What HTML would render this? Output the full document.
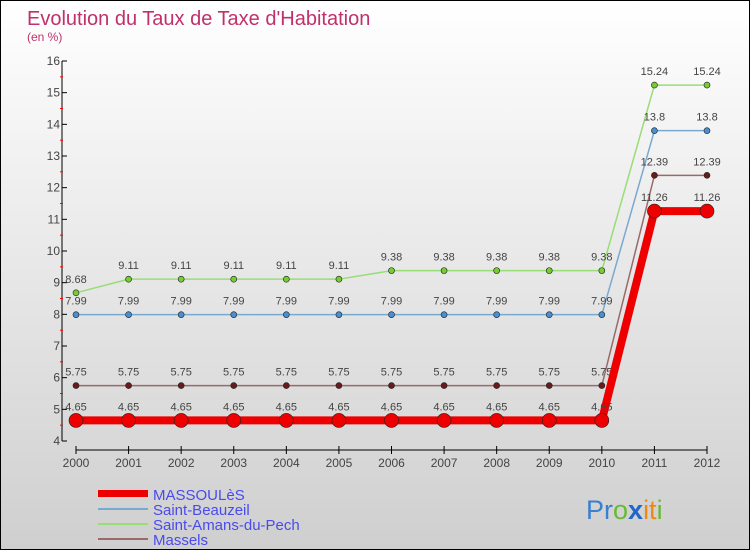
<!DOCTYPE html>
<html><head><meta charset="utf-8"><style>
body{margin:0}
#c{position:relative;width:750px;height:550px;box-sizing:border-box;border:1px solid #000;background:linear-gradient(#ffffff,#cfcfcf);font-family:"Liberation Sans",sans-serif;overflow:hidden}
text{font-family:"Liberation Sans",sans-serif}
</style></head><body>
<div id="c">
<svg id="s" width="750" height="550" style="position:absolute;left:0;top:0">
<text x="26" y="24" font-size="20" fill="#c0306a">Evolution du Taux de Taxe d'Habitation</text>
<text x="26" y="40" font-size="12" fill="#c0306a">(en %)</text>
<g id="g"></g>
<g>
<rect x="97" y="489" width="50" height="7" fill="#e00"/>
<text x="152" y="499" font-size="15" fill="#4a4aee">MASSOULèS</text>
<line x1="97" y1="508" x2="147" y2="508" stroke="#7aa9d0" stroke-width="2"/>
<text x="152" y="514" font-size="15" fill="#4a4aee">Saint-Beauzeil</text>
<line x1="97" y1="523" x2="147" y2="523" stroke="#99dd77" stroke-width="2"/>
<text x="152" y="529" font-size="15" fill="#4a4aee">Saint-Amans-du-Pech</text>
<line x1="97" y1="538" x2="147" y2="538" stroke="#9a6a6a" stroke-width="2"/>
<text x="152" y="544" font-size="15" fill="#4a4aee">Massels</text>
</g>
<text x="585" y="518" font-size="27"><tspan fill="#3a7fd0">Pr</tspan><tspan fill="#66bb33">o</tspan><tspan fill="#2266cc" font-weight="bold">x</tspan><tspan fill="#ee8811">it</tspan><tspan fill="#66bb33">i</tspan></text>
</svg>
</div>
<script>
const years=["2000","2001","2002","2003","2004","2005","2006","2007","2008","2009","2010","2011","2012"];
const yTicks=[4,5,6,7,8,9,10,11,12,13,14,15,16];
const massoules=[4.65,4.65,4.65,4.65,4.65,4.65,4.65,4.65,4.65,4.65,4.65,11.26,11.26];
const beauzeil=[7.99,7.99,7.99,7.99,7.99,7.99,7.99,7.99,7.99,7.99,7.99,13.8,13.8];
const amans=[8.68,9.11,9.11,9.11,9.11,9.11,9.38,9.38,9.38,9.38,9.38,15.24,15.24];
const massels=[5.75,5.75,5.75,5.75,5.75,5.75,5.75,5.75,5.75,5.75,5.75,12.39,12.39];
const NS="http://www.w3.org/2000/svg",g=document.getElementById('g');
const X=i=>75+i*(706-75)/(years.length-1);
const Y=v=>440-(v-4)*(380/12);
function mk(t,a,p){const e=document.createElementNS(NS,t);for(const k in a)e.setAttribute(k,a[k]);(p||g).appendChild(e);return e;}
let ax=mk('line',{x1:61,y1:Y(16),x2:61,y2:Y(4),stroke:'#000','stroke-width':1});


yTicks.forEach(v=>{mk('line',{x1:61,y1:Y(v),x2:66,y2:Y(v),stroke:'#000'});
 if(v<16)mk('line',{x1:59,y1:Y(v+0.5),x2:62,y2:Y(v+0.5),stroke:'#f00'});
 const t=mk('text',{x:59,y:Y(v)+4,'font-size':12,'text-anchor':'end',fill:'#444'});t.textContent=v;
 
 });
let xa=mk('line',{x1:X(0),y1:449,x2:X(12),y2:449,stroke:'#000'});


years.forEach((y,i)=>{mk('line',{x1:X(i),y1:445,x2:X(i),y2:453,stroke:'#000'});
 const t=mk('text',{x:X(i),y:466,'font-size':12,'text-anchor':'middle',fill:'#444'});t.textContent=y;
 
 });
function series(d,col,w,r,dot,name){
 const p=mk('polyline',{points:d.map((v,i)=>X(i)+','+Y(v)).join(' '),fill:'none',stroke:col,'stroke-width':w});
 
 
 d.forEach((v,i)=>{const c=mk('circle',{cx:X(i),cy:Y(v),r:r,fill:dot,stroke:'#222','stroke-width':0.6});
  
  
  const t=mk('text',{x:X(i),y:Y(v)-10,'font-size':11,'text-anchor':'middle',fill:'#444'});t.textContent=v;
  
  });
}
series(amans,'#99dd77',1.5,3,'#77cc33','saint-amans');
series(beauzeil,'#7aa9d0',1.5,3,'#4a8fd0','saint-beauzeil');
series(massels,'#9a6a6a',1.5,3,'#6a1a1a','massels');
series(massoules,'#ee0000',8,7,'#ee0000','massoules');
</script>
</body></html>
